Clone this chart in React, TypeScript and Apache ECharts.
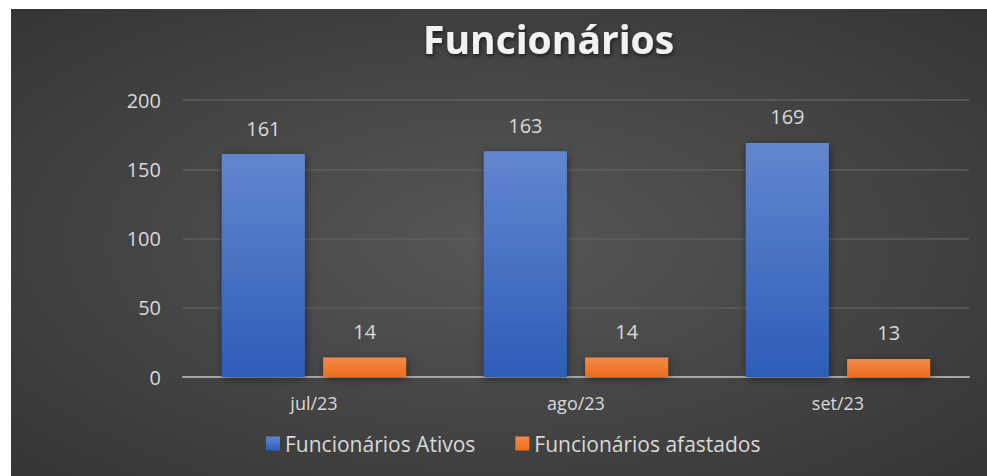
import React, { useEffect, useRef } from "react";
import * as echarts from "echarts";

const categories = ["jul/23", "ago/23", "set/23"];
const ativos = [161, 163, 169];
const afastados = [14, 14, 13];
const seriesNames = ["Funcionários Ativos", "Funcionários afastados"];
const titleText = "Funcionários";

export default function App() {
  const ref = useRef<HTMLDivElement>(null);
  useEffect(() => {
    if (!ref.current) return;
    const chart = echarts.init(ref.current, undefined, { renderer: "svg" });
    const font = "'Open Sans', 'Noto Sans', sans-serif";
    const textColor = "#d9d9d9";
    const label = {
      show: true,
      position: "top",
      distance: 16,
      fontFamily: font,
      fontSize: 20,
      color: textColor,
    };
    chart.setOption({
      animation: false,
      backgroundColor: {
        type: "radial",
        x: 0.5,
        y: 0.5,
        r: 1.15,
        colorStops: [
          { offset: 0, color: "#575757" },
          { offset: 1, color: "#1f1f1f" },
        ],
      },
      title: {
        text: titleText,
        left: 407,
        top: 5,
        textStyle: {
          fontFamily: font,
          fontSize: 39,
          fontWeight: "bold",
          color: "#f2f2f2",
          textShadowColor: "rgba(0,0,0,0.6)",
          textShadowBlur: 4,
          textShadowOffsetX: 1,
          textShadowOffsetY: 2,
        },
      },
      legend: {
        data: seriesNames,
        left: 250,
        top: 419,
        itemWidth: 14,
        itemHeight: 14,
        itemGap: 40,
        icon: "rect",
        textStyle: { fontFamily: font, fontSize: 21, color: textColor },
      },
      grid: { left: 172, right: 18, top: 91, bottom: 99, containLabel: false },
      xAxis: {
        type: "category",
        data: categories,
        axisLine: { lineStyle: { color: "#a6a6a6", width: 2 } },
        axisTick: { show: false },
        axisLabel: { fontFamily: font, fontSize: 18, color: textColor, margin: 17 },
      },
      yAxis: {
        type: "value",
        min: 0,
        max: 200,
        interval: 50,
        axisLine: { show: false },
        axisTick: { show: false },
        axisLabel: { fontFamily: font, fontSize: 20, color: textColor, margin: 22 },
        splitLine: { lineStyle: { color: "#5e5e5e", width: 1.5 } },
      },
      series: [
        {
          name: seriesNames[0],
          type: "bar",
          data: ativos,
          barWidth: 83,
          barGap: "22%",
          itemStyle: {
            color: {
              type: "linear",
              x: 0, y: 0, x2: 0, y2: 1,
              colorStops: [
                { offset: 0, color: "#6286cf" },
                { offset: 1, color: "#2d5db8" },
              ],
            },
            shadowColor: "rgba(0,0,0,0.45)",
            shadowBlur: 8,
            shadowOffsetX: 1,
            shadowOffsetY: 2,
          },
          label,
        },
        {
          name: seriesNames[1],
          type: "bar",
          data: afastados,
          barWidth: 83,
          itemStyle: {
            color: {
              type: "linear",
              x: 0, y: 0, x2: 0, y2: 1,
              colorStops: [
                { offset: 0, color: "#f4894c" },
                { offset: 1, color: "#ec6e1c" },
              ],
            },
            shadowColor: "rgba(0,0,0,0.45)",
            shadowBlur: 8,
            shadowOffsetX: 1,
            shadowOffsetY: 2,
          },
          label,
        },
      ],
    });
    return () => chart.dispose();
  }, []);
  return (
    <div
      ref={ref}
      style={{ position: "absolute", left: 11, top: 9, width: 976, height: 467 }}
    />
  );
}
